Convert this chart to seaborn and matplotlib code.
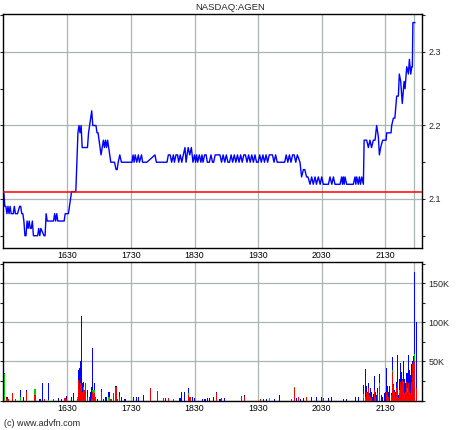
import matplotlib
matplotlib.use('Agg')
import matplotlib.pyplot as plt
import seaborn as sns
from matplotlib.ticker import MultipleLocator, FuncFormatter

sns.set_style('white')
plt.rcParams['font.family'] = ['Liberation Sans', 'DejaVu Sans']

# price, time in minutes after 15:30
price_t = [0, 1, 2, 3, 4, 5, 6, 7, 9, 10, 11, 13, 15, 16, 17, 18, 19, 20, 21, 22,
           23, 24, 25, 26, 27, 28, 31, 32, 33, 34, 35, 38, 39, 40, 41, 43, 45, 47, 48, 49,
           50, 51, 55, 57, 58, 61, 63, 64, 68, 70, 71, 72, 73, 74, 79, 80, 81, 83, 84, 87,
           88, 89, 91.8, 94, 95, 96, 97, 98, 99, 100, 101, 104.5, 106, 107, 108, 109.5, 111, 121,
           122, 123, 124, 125.5, 127, 128, 130, 131, 135, 142.7, 144, 154, 155.3, 157, 158.4, 160,
           161, 162.5, 164, 165, 166.5, 168, 169.4, 171, 172, 174, 175.5, 177, 178.5, 180,
           181, 182, 183, 184.5, 186, 187, 188, 189.5, 191, 192, 194, 195.5, 197, 198, 199.5, 204,
           205.5, 207, 208.5, 210, 211.5, 213, 214.5, 216, 217.5, 219, 220.5, 222, 223.5, 225,
           226.5, 228, 229.5, 231, 232.5, 234, 235.5, 237, 238.5, 240, 241.5, 243, 244.5, 246,
           247.5, 249, 250.5, 252, 253.5, 255, 256.5, 258, 262, 265, 266.5, 268, 269.5, 271,
           272.5, 274, 275.5, 277, 279.5, 281, 282.7, 284, 285.7, 287, 289, 290.5, 292, 293.7,
           295, 296.8, 298.5, 300, 301.5, 306.3, 307.8, 309.5, 311, 312.5, 317.3, 318.8, 319.6,
           320.4, 321.2, 322, 323.5, 329.8, 331.4, 332.2, 333, 334.5, 335.5, 336.6, 337.7, 339.3,
           340, 342.4, 344, 345.5, 347, 348.7, 350.3, 351.8, 353.4, 354.4, 355.6, 357.5, 360.7,
           361.3, 365.4, 366, 367.6, 369, 370.7, 372.3, 373.2, 374.5, 376, 377.7, 378.6, 380.2,
           381.8, 382.7, 384, 385, 385.5, 386, 388]
price = [2.11, 2.09, 2.09, 2.08, 2.09, 2.08, 2.09, 2.08, 2.08, 2.09, 2.08, 2.08, 2.09, 2.09, 2.08, 2.08, 2.07, 2.05, 2.05, 2.07,
         2.06, 2.07, 2.06, 2.06, 2.07, 2.05, 2.05, 2.05, 2.06, 2.05, 2.06, 2.05, 2.05, 2.08, 2.07, 2.07, 2.07, 2.07, 2.08, 2.07,
         2.08, 2.07, 2.07, 2.07, 2.08, 2.08, 2.10, 2.11, 2.11, 2.19, 2.20, 2.19, 2.20, 2.17, 2.17, 2.19, 2.20, 2.22, 2.20, 2.20,
         2.19, 2.19, 2.16, 2.18, 2.17, 2.18, 2.17, 2.18, 2.17, 2.16, 2.15, 2.15, 2.14, 2.14, 2.15, 2.16, 2.15, 2.15,
         2.16, 2.15, 2.16, 2.15, 2.16, 2.15, 2.16, 2.15, 2.15, 2.16, 2.15, 2.15, 2.16, 2.16, 2.15, 2.16,
         2.15, 2.16, 2.16, 2.15, 2.16, 2.15, 2.16, 2.17, 2.15, 2.17, 2.16, 2.17, 2.15, 2.16,
         2.15, 2.16, 2.15, 2.16, 2.15, 2.16, 2.15, 2.16, 2.16, 2.15, 2.15, 2.16, 2.15, 2.15, 2.16, 2.16,
         2.15, 2.16, 2.15, 2.16, 2.15, 2.15, 2.16, 2.15, 2.16, 2.15, 2.16, 2.15, 2.16, 2.15,
         2.16, 2.16, 2.15, 2.16, 2.15, 2.16, 2.15, 2.16, 2.15, 2.15, 2.16, 2.15, 2.16, 2.15,
         2.16, 2.15, 2.16, 2.16, 2.16, 2.15, 2.16, 2.15, 2.15, 2.15, 2.16, 2.15, 2.16, 2.15,
         2.16, 2.16, 2.15, 2.16, 2.15, 2.13, 2.14, 2.14, 2.13, 2.13, 2.12, 2.13, 2.12, 2.13,
         2.12, 2.13, 2.12, 2.13, 2.12, 2.12, 2.13, 2.12, 2.13, 2.12, 2.12, 2.13, 2.12,
         2.13, 2.12, 2.13, 2.12, 2.12, 2.13, 2.12, 2.13, 2.12, 2.13, 2.12, 2.13, 2.12,
         2.18, 2.18, 2.17, 2.18, 2.17, 2.18, 2.18, 2.20, 2.185, 2.16, 2.17, 2.18, 2.18,
         2.19, 2.19, 2.20, 2.21, 2.21, 2.24, 2.24, 2.27, 2.26, 2.23, 2.26, 2.25, 2.28,
         2.27, 2.29, 2.27, 2.28, 2.28, 2.34, 2.34]
prev_close = 2.11

# volume bars in thousands, stacked red / green / blue
vol_t = [0.3, 2.2, 3.4, 4.4, 8.1, 10.7, 15.4, 18.5, 21.7, 29.5, 34.2, 36.4, 38.3, 42, 46.8, 51.5,
         54.7, 57.8, 59.4, 63.5, 65.7, 69.5, 70.4, 71.3, 72.3, 73.2, 74.2, 75.2, 76.1, 77.1, 78.6,
         80.8, 81.7, 82.7, 83.6, 84.5, 85.5, 86.8, 88.6, 91.8, 94, 96.5, 99.3, 101.2, 103.4, 105.9,
         107.2, 109.1, 110.7, 114.4, 122.3, 125.4, 127, 131.7, 138.7, 144.9, 150.6, 152.2, 155.3,
         160, 166.3, 167.9, 170.4, 174.2, 175.7, 178.2, 180.4, 187.7, 189.9, 192, 194, 197.8,
         200.9, 204, 205.6, 208.2, 224.5, 226.7, 241.8, 245, 248.1, 250.3, 255.4, 260.1, 271.7,
         273.9, 276.4, 278, 279.6, 282.7, 285.3, 290.6, 295.3, 300.1, 301.6, 306.3, 309.5, 320.5,
         323, 331.5, 334.6, 339.3, 340.9, 342.4, 343.4, 344.3, 345.2, 346.1, 347, 347.9, 348.8,
         349.7, 350.9, 351.9, 352.8, 354.4, 356, 357.5, 359.1, 360.3, 361.3, 362.2, 363.2, 364.1,
         365.4, 366.6, 367.6, 368.5, 369.5, 370.4, 371.4, 372.3, 373.3, 374.2, 375.2, 376.1, 377.1,
         378, 379, 379.9, 380.9, 381.8, 382.8, 383.7, 384.7, 385.6, 386.6, 387.5, 389.7]
vol_red = [0, 3, 1, 2.5, 9, 2.5, 0, 0, 11, 7, 0, 0, 2.5, 0, 2, 0,
           0, 3.5, 2, 0, 0, 2, 26, 15, 22, 20, 11, 13, 13, 22, 5,
           4, 0, 3, 11, 8, 9, 4.7, 0, 11, 0, 0, 0, 2.5, 9, 17,
           2.5, 4.7, 0, 0, 0, 0, 0, 0, 15.7, 12, 3.8, 0, 3.8,
           2, 0, 0, 0, 7, 5, 0, 0, 0, 0, 0, 0, 0,
           9, 0, 3.8, 0, 6, 5, 2, 0, 0, 0, 0, 0, 2,
           16, 0, 5, 0, 0, 5, 0, 0, 0, 3, 0, 0, 0,
           0, 0, 0, 3, 5, 11, 9, 16, 7, 5, 3, 0, 0,
           13.5, 5, 0, 9, 18, 0, 0, 0, 0, 11, 7, 5, 0,
           7, 37, 19, 11, 5, 16, 23, 3, 9, 24, 19, 26, 22,
           9, 11, 24, 11, 22, 13.5, 10, 24, 47, 49, 50, 16]
vol_green = [34, 0, 0, 0, 0, 0, 5, 0, 0, 7.5, 0, 0, 0, 1, 0, 0,
             0, 0, 0, 0, 0, 2, 0, 0, 0, 0, 0, 4, 0, 0, 0,
             0, 0, 0, 2, 6, 4, 0, 0, 0, 0, 0, 4.7, 0, 0, 0,
             0, 0, 0, 0, 0, 0, 0, 0, 0, 0, 0, 0, 0,
             0, 0, 0, 0, 2.3, 0, 0, 0, 0, 0, 0, 0, 0,
             1, 0, 0, 0, 0, 0, 0, 0, 0, 3, 0, 0, 0,
             1.5, 0, 0, 0, 0, 0, 0, 0, 0, 0, 0, 0, 0,
             0, 0, 0, 5, 0, 0, 0, 0, 0, 0, 0, 0, 0,
             0, 0, 0, 0, 4, 0, 0, 0, 0, 0, 0, 0, 0,
             0, 2, 0, 0, 0, 0, 0, 0, 4.5, 0, 0, 0, 2,
             0, 0, 0, 5, 0, 0, 0, 0, 0, 0, 10, 0]
vol_blue = [1, 2, 4, 0, 0, 0, 8, 4, 2, 0, 2.5, 22, 0, 21, 0, 3.5,
            2, 0, 3.5, 4, 9, 0, 13, 26, 28, 88, 11, 7, 1, 1, 8,
            0.7, 11, 14, 54, 0, 9, 0, 2.5, 4, 2.5, 4.7, 6.3, 0, 0, 1,
            0, 6.3, 4.7, 2, 4.7, 4, 4.7, 7, 0, 0, 0, 3, 0,
            0, 3, 11, 11, 6.4, 0, 5, 3, 2, 2, 3, 3, 5,
            1, 2, 0, 3, 0, 2, 0, 2, 2, 0, 2, 7, 0,
            0, 3, 0, 2, 3, 0, 5, 4, 5, 0, 3, 4, 2,
            2, 4, 4, 12, 35, 7, 2, 7, 2, 11.5, 7.6, 5, 8,
            18.5, 6.4, 7, 7, 11.5, 7, 5, 9, 11, 30, 11, 6, 19,
            2, 17, 2, 2.5, 5.6, 8, 35, 4, 14, 24, 18, 2, 26,
            18.5, 12, 11, 19, 36, 25.5, 23, 23, 3, 8, 105, 84]

tick_t = [60, 120, 180, 240, 300, 360]
tick_lab = ['1630', '1730', '1830', '1930', '2030', '2130']
last_t = 387

grid_c = '#a8b6b4'

fig = plt.figure(figsize=(4.6, 4.3), dpi=100)
ax1 = fig.add_axes([3 / 460, 182 / 430, 419 / 460, 234 / 430])
ax2 = fig.add_axes([3 / 460, 29.5 / 430, 419 / 460, 138.5 / 430])

# price panel
sns.lineplot(x=price_t, y=price, ax=ax1, color='#0000ff', lw=1, estimator=None)
ax1.axhline(prev_close, color='#ff0000', lw=1.1, zorder=3)
ax1.set_ylim(2.0333, 2.3517)
ax1.yaxis.set_major_locator(MultipleLocator(0.1))
ax1.yaxis.set_minor_locator(MultipleLocator(0.05))
ax1.yaxis.set_major_formatter(FuncFormatter(lambda v, p: f'{v:.1f}'))

# volume panel
bot_g = vol_red
bot_b = [r + g for r, g in zip(vol_red, vol_green)]
ax2.bar(vol_t, vol_red, width=1.0, color='#ff0000', lw=0, zorder=3)
ax2.bar(vol_t, vol_green, width=1.0, bottom=bot_g, color='#00cc00', lw=0, zorder=3)
ax2.bar(vol_t, vol_blue, width=1.0, bottom=bot_b, color='#0000ff', lw=0, zorder=3)
ax2.set_ylim(0, 177.3)
ax2.yaxis.set_major_locator(MultipleLocator(50))
ax2.yaxis.set_minor_locator(MultipleLocator(25))
ax2.yaxis.set_major_formatter(FuncFormatter(lambda v, p: f'{int(v)}K' if v > 0 else ''))

for ax in (ax1, ax2):
    ax.set_xlim(-0.7, 394.6)
    ax.set_xticks(tick_t)
    ax.set_xticklabels(tick_lab)
    ax.set_xlabel('')
    ax.set_ylabel('')
    ax.set_axisbelow(True)
    ax.grid(True, which='major', color=grid_c, lw=0.9)
    ax.axvline(last_t, color=grid_c, lw=0.9, zorder=1)
    ax.tick_params(axis='x', length=0, labelsize=6.3, pad=2.5, colors='black')
    ax.tick_params(axis='y', which='both', left=True, right=True, labelleft=False,
                   labelright=True, direction='out', length=2.5, width=0.8,
                   labelsize=6.5, pad=2)
    for s in ax.spines.values():
        s.set_color('black')
        s.set_linewidth(1.0)
        s.set_visible(True)

fig.text(0.5, 1 - 8 / 430, 'NASDAQ:AGEN', ha='center', va='center', fontsize=6.8)
fig.text(4 / 460, 7 / 430, '(c) www.advfn.com', ha='left', va='center', fontsize=6.5)

fig.savefig('out.png', dpi=100)
